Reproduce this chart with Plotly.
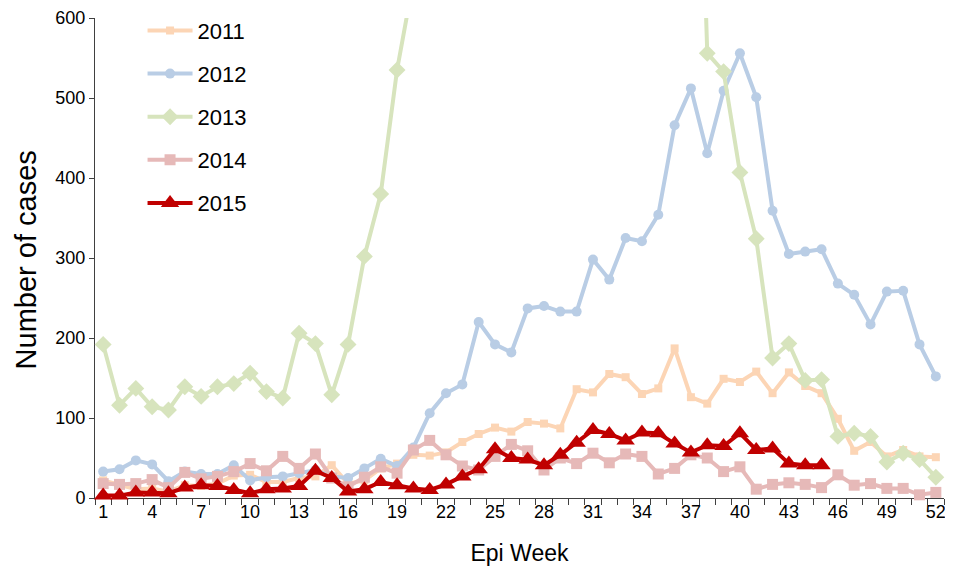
import plotly.graph_objects as go

weeks = list(range(1, 53))
x_tick_labels = [str(w) for w in range(1, 53, 3)]
y_ticks = [0, 100, 200, 300, 400, 500, 600]

cases_2011 = [22, 17, 11, 12, 8, 16, 15, 18, 28, 29, 20, 20, 25, 27, 41, 18, 22, 37, 43, 54,
              53, 57, 70, 80, 88, 83, 95, 93, 87, 136, 132, 155, 151, 130, 137, 187, 126, 118,
              149, 145, 158, 131, 157, 140, 131, 99, 59, 70, 52, 60, 52, 51]
cases_2012 = [33, 36, 47, 42, 21, 33, 30, 30, 41, 22, 26, 27, 31, 35, 27, 25, 37, 49, 40, 63,
              106, 131, 142, 220, 192, 182, 237, 240, 233, 233, 298, 273, 325, 321, 354, 466,
              512, 431, 509, 556, 501, 359, 305, 308, 311, 268, 254, 217, 258, 259, 192, 152]
# weeks 20-37 of 2013 run above the 600 ceiling of the axis (estimated)
cases_2013 = [192, 116, 137, 114, 110, 139, 127, 139, 143, 156, 133, 125, 206, 193, 129, 192,
              302, 380, 535,
              660, 780, 870, 950, 1020, 1080, 1150, 1200, 1260, 1300, 1350, 1320, 1290, 1300,
              1280, 1250, 1230, 1200,
              556, 533, 407, 324, 175, 193, 147, 148, 77, 81, 77, 45, 56, 48, 26]
cases_2014 = [18, 17, 18, 23, 13, 32, 24, 27, 33, 43, 34, 52, 37, 55, 25, 14, 26, 39, 31, 60,
              72, 54, 40, 35, 52, 67, 59, 35, 50, 43, 56, 44, 55, 52, 30, 37, 54, 50, 33, 39,
              11, 17, 19, 17, 13, 29, 16, 18, 12, 12, 4, 7]
cases_2015 = [3, 3, 7, 7, 6, 13, 16, 15, 10, 6, 11, 12, 15, 34, 25, 8, 11, 20, 16, 12, 10, 17,
              27, 36, 61, 50, 48, 41, 54, 69, 85, 80, 72, 82, 81, 68, 57, 66, 65, 81, 60, 62,
              43, 41, 41]

series = [
    ("2011", cases_2011, "#FCD5B5", "square", 8, 4),
    ("2012", cases_2012, "#B9CDE5", "circle", 10, 4),
    ("2013", cases_2013, "#D7E4BD", "diamond", 13, 4),
    ("2014", cases_2014, "#E6B9B8", "square", 11, 4),
    ("2015", cases_2015, "#C00000", "triangle-up", 16, 4),
]

FONT = "Liberation Sans, Arial, sans-serif"
fig = go.Figure()
for name, vals, color, symbol, msize, lw in series:
    fig.add_trace(go.Scatter(
        x=weeks[:len(vals)], y=vals, name=name, mode="lines+markers",
        legendgroup=name,
        line=dict(color=color, width=lw),
        marker=dict(color=color, symbol=symbol, size=msize),
        cliponaxis=False,
    ))

axis_color = "#404040"
# page body adds an 8px offset, so the figure is 8px smaller and margins compensate
fig.update_layout(
    width=945, height=558,
    margin=dict(l=87, r=9, t=10, b=68, autoexpand=False),
    paper_bgcolor="white", plot_bgcolor="white",
    font=dict(family=FONT, size=18, color="black"),
    showlegend=True,
    legend=dict(
        x=0.056, y=1.0173, xanchor="left", yanchor="top",
        bgcolor="rgba(0,0,0,0)", borderwidth=0,
        font=dict(family=FONT, size=22, color="black"),
        tracegroupgap=11.5, itemwidth=45,
    ),
    xaxis=dict(
        range=[0.5, 52.5],
        tickmode="array", tickvals=list(range(1, 53, 3)), ticktext=x_tick_labels,
        ticks="outside", ticklen=0, tickcolor="rgba(0,0,0,0)",
        ticklabelstandoff=-3,
        minor=dict(tickmode="array", tickvals=[w + 0.5 for w in range(0, 53)],
                   ticks="outside", ticklen=6, tickcolor=axis_color, tickwidth=1),
        showline=True, linecolor=axis_color, linewidth=1,
        showgrid=False, zeroline=False, automargin=False,
        tickfont=dict(family=FONT, size=18),
        title=dict(text="Epi Week", font=dict(family=FONT, size=23), standoff=24),
        layer="below traces",
    ),
    yaxis=dict(
        range=[0, 600],
        tickmode="array", tickvals=y_ticks,
        ticks="outside", ticklen=5, tickcolor=axis_color,
        showline=True, linecolor=axis_color, linewidth=1,
        showgrid=False, zeroline=False, automargin=False,
        tickfont=dict(family=FONT, size=18),
        layer="below traces",
    ),
    annotations=[dict(
        text="Number of cases", textangle=-90,
        xref="paper", yref="paper", x=0, y=0.495, xshift=-69,
        xanchor="center", yanchor="middle", showarrow=False,
        font=dict(family=FONT, size=29, color="black"),
    )],
)

fig.write_html("out.html")
